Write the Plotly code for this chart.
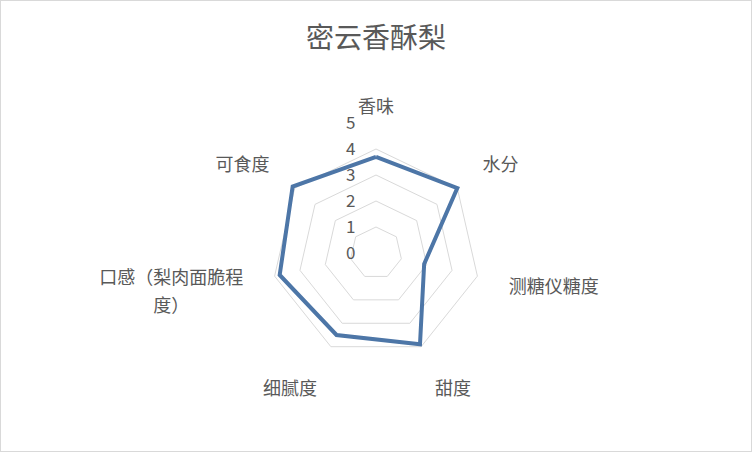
import plotly.graph_objects as go

categories = ["香味", "水分", "测糖仪糖度", "甜度", "细腻度",
              "口感（梨肉面脆程<br><sub><span style='font-size:18px'>度）\u3000\u3000\u3000\u2002</span></sub>",
              "可食度"]
values = [3.7, 4.0, 1.9, 3.9, 3.5, 3.8, 4.1]
radial_ticks = [0, 1, 2, 3, 4, 5]
title_text = "密云香酥梨"

W, H = 752, 452
cx, cy, R = 376, 253, 130

fig = go.Figure()
fig.add_trace(go.Scatterpolar(
    r=values + values[:1],
    theta=categories + categories[:1],
    mode="lines",
    line=dict(color="#4d76a7", width=4),
    showlegend=False,
    hoverinfo="skip",
))

fig.update_layout(
    width=W, height=H,
    margin=dict(l=0, r=0, t=0, b=0),
    paper_bgcolor="white",
    plot_bgcolor="white",
    font=dict(family="Noto Sans CJK SC", color="#595959"),
    title=dict(text=title_text, x=0.5, xanchor="center", y=1 - 38 / H, yanchor="middle",
               font=dict(size=28, color="#595959", family="Noto Sans CJK SC")),
    polar=dict(
        domain=dict(x=[(cx - R) / W, (cx + R) / W], y=[(H - cy - R) / H, (H - cy + R) / H]),
        gridshape="linear",
        bgcolor="white",
        angularaxis=dict(
            direction="clockwise", rotation=90,
            showgrid=False, showline=False,
            ticks="outside", ticklen=2, tickcolor="rgba(0,0,0,0)",
            tickfont=dict(size=18, color="#595959"),
        ),
        radialaxis=dict(
            range=[0, 5], tickvals=radial_ticks, angle=90, tickangle=90,
            side="counterclockwise",
            showline=False,
            ticks="outside", ticklen=14, tickcolor="rgba(0,0,0,0)",
            gridcolor="#d9d9d9", gridwidth=1,
            tickfont=dict(size=17, color="#595959"),
        ),
    ),
    shapes=[dict(type="rect", xref="paper", yref="paper", x0=0, y0=0, x1=1, y1=1,
                 line=dict(color="#d9d9d9", width=2), fillcolor="rgba(0,0,0,0)")],
)

fig.write_html("out.html", config={"displayModeBar": False},
               post_script="document.body.style.margin='0';document.body.style.padding='0';")
